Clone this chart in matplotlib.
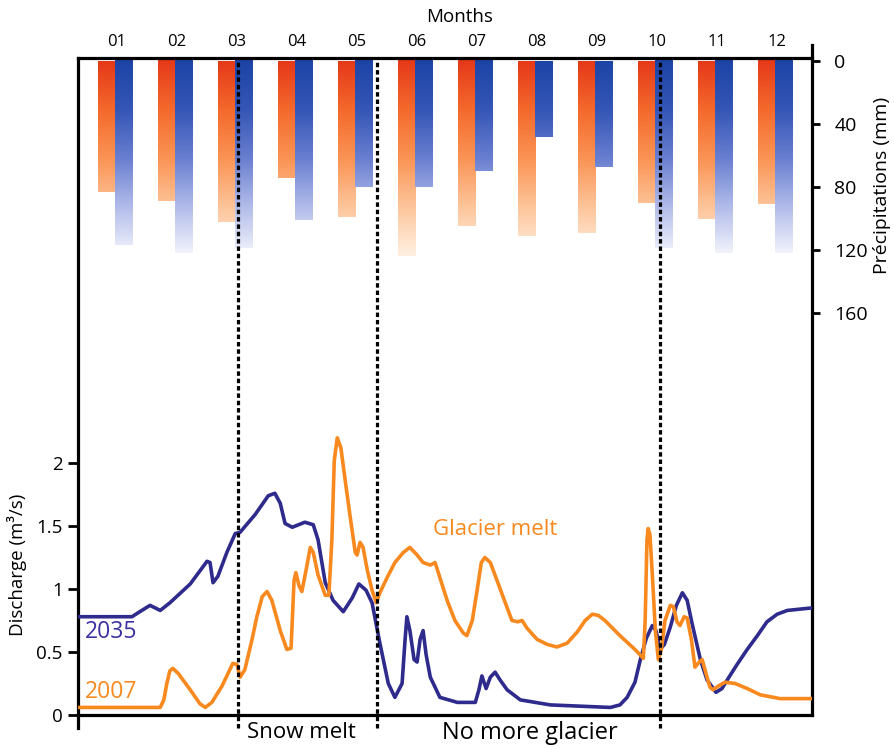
import matplotlib
matplotlib.use('Agg')
import matplotlib.pyplot as plt
import numpy as np
from matplotlib.colors import LinearSegmentedColormap

plt.rcParams['font.family'] = ['Open Sans', 'DejaVu Sans']

# precipitation per month (mm)
months = np.arange(1, 13)
month_labels = ['01', '02', '03', '04', '05', '06',
                '07', '08', '09', '10', '11', '12']
precip_2007 = [83, 89, 102, 74, 99, 124, 105, 111, 109, 90, 100, 91]
precip_2035 = [117, 122, 119, 101, 80, 80, 70, 48, 67, 119, 122, 122]

# discharge (m3/s), x in months
x_2035 = [0.35, 1.25, 1.38, 1.55, 1.72, 1.88, 2.22, 2.50, 2.55, 2.60, 2.68,
          2.83, 2.97, 3.05, 3.30, 3.52, 3.63, 3.72, 3.80, 3.92, 4.13, 4.27,
          4.35, 4.47, 4.60, 4.77, 4.92, 5.03, 5.15, 5.25, 5.38, 5.52, 5.63,
          5.75, 5.80, 5.83, 5.88, 5.95, 6.00, 6.05, 6.10, 6.15, 6.22, 6.38,
          6.67, 6.97, 7.03, 7.08, 7.15, 7.22, 7.30, 7.38, 7.50, 7.72, 8.22,
          8.72, 9.22, 9.38, 9.50, 9.63, 9.72, 9.82, 9.92, 9.98, 10.05, 10.12,
          10.22, 10.32, 10.42, 10.50, 10.58, 10.72, 10.83, 10.98, 11.08, 11.17,
          11.33, 11.50, 11.67, 11.83, 12.00, 12.17, 12.58]
q_2035 = [0.78, 0.78, 0.82, 0.87, 0.83, 0.89, 1.04, 1.22, 1.21, 1.05, 1.10,
          1.29, 1.44, 1.45, 1.59, 1.74, 1.76, 1.68, 1.52, 1.49, 1.53, 1.51,
          1.39, 1.05, 0.91, 0.82, 0.93, 1.04, 0.99, 0.89, 0.57, 0.25, 0.14,
          0.25, 0.60, 0.78, 0.67, 0.44, 0.42, 0.60, 0.67, 0.48, 0.30, 0.14,
          0.10, 0.10, 0.20, 0.31, 0.21, 0.30, 0.34, 0.28, 0.20, 0.12, 0.08,
          0.07, 0.06, 0.08, 0.14, 0.26, 0.44, 0.61, 0.71, 0.67, 0.52, 0.56,
          0.70, 0.87, 0.97, 0.91, 0.73, 0.44, 0.28, 0.18, 0.21, 0.28,
          0.40, 0.52, 0.63, 0.74, 0.80, 0.83, 0.85]

x_2007 = [0.35, 1.72, 1.78, 1.83, 1.88, 1.93, 2.02, 2.22, 2.38, 2.47, 2.58,
          2.75, 2.93, 3.00, 3.05, 3.13, 3.25, 3.33, 3.42, 3.50, 3.58, 3.72,
          3.83, 3.90, 3.95, 3.98, 4.03, 4.08, 4.15, 4.22, 4.27, 4.35, 4.47,
          4.53, 4.58, 4.62, 4.67, 4.73, 4.80, 4.88, 4.97, 5.00, 5.05, 5.10,
          5.17, 5.25, 5.32, 5.38, 5.50, 5.63, 5.77, 5.88, 6.00, 6.10, 6.22,
          6.30, 6.38, 6.50, 6.63, 6.77, 6.83, 6.92, 7.00, 7.07, 7.13, 7.22,
          7.33, 7.47, 7.58, 7.68, 7.75, 7.83, 8.00, 8.17, 8.33, 8.50, 8.67,
          8.80, 8.92, 9.02, 9.13, 9.38, 9.63, 9.77, 9.80, 9.83, 9.85, 9.88,
          9.92, 9.97, 10.02, 10.07, 10.13, 10.22, 10.27, 10.33, 10.38, 10.45,
          10.50, 10.57, 10.63, 10.70, 10.75, 10.82, 10.88, 10.93, 11.02,
          11.13, 11.30, 11.50, 11.72, 12.05, 12.58]
q_2007 = [0.06, 0.06, 0.12, 0.25, 0.35, 0.37, 0.33, 0.20, 0.09, 0.06, 0.10,
          0.23, 0.41, 0.40, 0.30, 0.36, 0.60, 0.78, 0.94, 0.98, 0.91, 0.67,
          0.52, 0.53, 1.07, 1.13, 1.03, 0.98, 1.15, 1.33, 1.29, 1.11, 0.95,
          0.95, 1.39, 2.02, 2.20, 2.12, 1.87, 1.59, 1.29, 1.27, 1.37, 1.33,
          1.15, 0.99, 0.89, 0.97, 1.09, 1.21, 1.29, 1.33, 1.27, 1.21, 1.19,
          1.21, 1.09, 0.91, 0.75, 0.65, 0.63, 0.75, 0.99, 1.21, 1.25, 1.21,
          1.07, 0.89, 0.75, 0.74, 0.75, 0.69, 0.60, 0.56, 0.54, 0.57, 0.66,
          0.75, 0.80, 0.79, 0.75, 0.63, 0.52, 0.45, 0.75, 1.39, 1.48, 1.43,
          1.11, 0.67, 0.44, 0.52, 0.75, 0.87, 0.86, 0.74, 0.71, 0.78,
          0.77, 0.60, 0.38, 0.42, 0.44, 0.32, 0.22, 0.20, 0.23,
          0.26, 0.25, 0.21, 0.16, 0.13, 0.13]

season_limits = [3.02, 5.33, 10.05]

orange_line = '#F7891F'
navy_line = '#2E2B8C'
cmap_orange = LinearSegmentedColormap.from_list(
    'or', ['#E5391A', '#F46A2C', '#FA9456', '#FDC69C', '#FFF1E4'])
cmap_blue = LinearSegmentedColormap.from_list(
    'bl', ['#1C44A6', '#3556B6', '#6A7FD0', '#B3BDEA', '#F6F7FD'])
grad_max = 125.0

fig = plt.figure(figsize=(8.94, 7.49), dpi=100)
ax_p = fig.add_axes([78 / 894, 34 / 749, 734 / 894, 657 / 749])
ax_d = ax_p.twinx()

xmin, xmax = 0.35, 12.58
p_top, p_bottom = -1.9, 415.2
q_top = 657 / 126.0

# precipitation bars with vertical gradients
bw = 0.29
for m, h7, h35 in zip(months, precip_2007, precip_2035):
    for x0, h, cm in [(m - bw - 0.03, h7, cmap_orange),
                      (m - 0.03, h35, cmap_blue)]:
        t = np.linspace(0, h, 200)[:, None] / grad_max
        ax_p.imshow(t, cmap=cm, vmin=0, vmax=1, aspect='auto',
                    extent=[x0, x0 + bw, h, 0], interpolation='bilinear')
ax_p.set_xlim(xmin, xmax)
ax_p.set_ylim(p_bottom, p_top)

# discharge curves
ax_d.plot(x_2035, q_2035, color=navy_line, lw=2.6, solid_joinstyle='round',
          zorder=3)
ax_d.plot(x_2007, q_2007, color=orange_line, lw=2.6, solid_joinstyle='round',
          zorder=4)
for xs in season_limits:
    ax_d.plot([xs, xs], [-0.1, q_top], color='black', lw=2.3,
              ls=(0, (1.4, 0.9)), clip_on=False, zorder=5)
ax_d.set_xlim(xmin, xmax)
ax_d.set_ylim(0, q_top)

# axes styling
ax_d.yaxis.tick_left()
ax_p.yaxis.tick_right()
ax_d.set_yticks([0, 0.5, 1, 1.5, 2])
ax_d.set_yticklabels(['0', '0.5', '1', '1.5', '2'])
ax_d.tick_params(axis='y', direction='out', length=7, width=2,
                 labelsize=13.5, pad=4)
ax_p.set_yticks([0, 40, 80, 120, 160])
ax_p.set_yticklabels(['0', '40', '80', '120', '160'])
ax_p.tick_params(axis='y', direction='out', length=6, width=2,
                 labelsize=14, pad=10)
ax_p.xaxis.tick_top()
ax_p.set_xticks(months)
ax_p.set_xticklabels(month_labels)
ax_p.tick_params(axis='x', length=0, labelsize=12, pad=6)

for s in ['left', 'bottom']:
    ax_p.spines[s].set_visible(False)
for s in ['right', 'top']:
    ax_d.spines[s].set_visible(False)
for a in [ax_p, ax_d]:
    for sp in a.spines.values():
        sp.set_linewidth(2.3)
ax_p.spines['right'].set_bounds(p_bottom, -10)
ax_d.spines['left'].set_bounds(-0.1, q_top)

# texts
ax_d.text(0.47, 0.66, '2035', color='#3A31A0', fontsize=16.5,
          ha='left', va='center')
ax_d.text(0.47, 0.18, '2007', color=orange_line, fontsize=16.5,
          ha='left', va='center')
ax_d.text(6.27, 1.47, 'Glacier melt', color=orange_line, fontsize=16,
          ha='left', va='center')
ax_d.text(4.08, -0.135, 'Snow melt', color='black', fontsize=16,
          ha='center', va='center', clip_on=False)
ax_d.text(7.88, -0.143, 'No more glacier', color='black', fontsize=17,
          ha='center', va='center', clip_on=False)

fig.text(460 / 894, 1 - 17 / 749, 'Months', fontsize=13.5,
         ha='center', va='center')
fig.text(882 / 894, 1 - 185 / 749, 'Précipitations (mm)', fontsize=14,
         rotation=90, ha='center', va='center')
fig.text(17 / 894, 1 - 565 / 749, 'Discharge (m³/s)', fontsize=13.5,
         rotation=90, ha='center', va='center')

fig.savefig('out.png', dpi=100)
